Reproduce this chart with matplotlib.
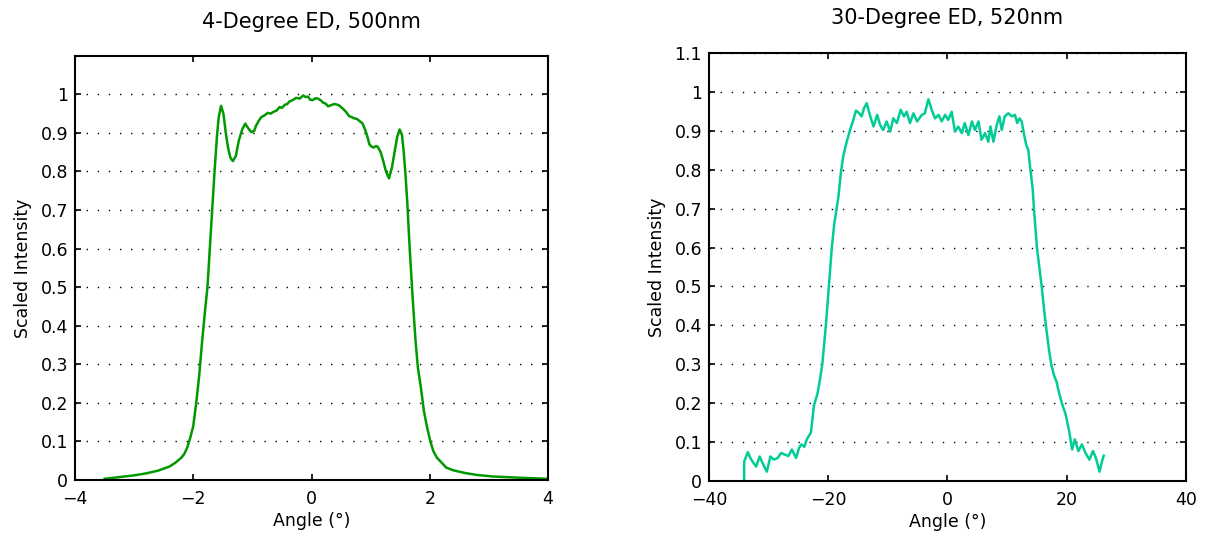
import matplotlib
matplotlib.use("Agg")
import matplotlib.pyplot as plt
from matplotlib.ticker import FuncFormatter

# 4-degree ED, 500 nm
angle_4deg = [-3.5, -3.0, -2.8, -2.6, -2.4, -2.3, -2.2, -2.15, -2.1, -2.05, -2.0, -1.95,
              -1.9, -1.85, -1.8, -1.76, -1.72, -1.68, -1.64, -1.60, -1.57, -1.53, -1.49,
              -1.45, -1.41, -1.37, -1.33, -1.28, -1.23, -1.17, -1.12, -1.07, -1.02, -0.97,
              -0.94, -0.89, -0.85, -0.80, -0.74, -0.69, -0.64, -0.59, -0.54, -0.50, -0.45,
              -0.41, -0.37, -0.32, -0.26, -0.20, -0.14, -0.10, -0.06, -0.02, 0.02, 0.07,
              0.11, 0.16, 0.20, 0.24, 0.28, 0.33, 0.39, 0.46, 0.53, 0.58, 0.64, 0.68, 0.72,
              0.77, 0.81, 0.86, 0.90, 0.94, 0.98, 1.02, 1.05, 1.09, 1.12, 1.17, 1.21, 1.26,
              1.31, 1.36, 1.41, 1.45, 1.49, 1.53, 1.56, 1.59, 1.62, 1.65, 1.68, 1.72, 1.76,
              1.80, 1.85, 1.90, 1.95, 2.01, 2.06, 2.12, 2.20, 2.28, 2.40, 2.60, 2.80, 3.07,
              3.50, 4.0]
inten_4deg = [0.003, 0.012, 0.017, 0.024, 0.035, 0.045, 0.058, 0.068, 0.085, 0.11, 0.14, 0.20,
              0.27, 0.36, 0.44, 0.50, 0.60, 0.70, 0.80, 0.89, 0.94, 0.970, 0.95,
              0.90, 0.86, 0.835, 0.827, 0.84, 0.88, 0.91, 0.924, 0.912, 0.902, 0.905,
              0.918, 0.932, 0.941, 0.945, 0.952, 0.950, 0.955, 0.958, 0.967, 0.965, 0.973,
              0.975, 0.982, 0.985, 0.991, 0.989, 0.997, 0.993, 0.994, 0.986, 0.985, 0.990,
              0.989, 0.984, 0.978, 0.976, 0.969, 0.972, 0.975, 0.972, 0.963, 0.955, 0.943, 0.941, 0.938,
              0.936, 0.931, 0.925, 0.911, 0.893, 0.870, 0.864, 0.862, 0.866, 0.864, 0.850, 0.829, 0.80,
              0.782, 0.81, 0.855, 0.890, 0.909, 0.895, 0.85, 0.79, 0.72, 0.63, 0.55, 0.45, 0.36,
              0.29, 0.24, 0.18, 0.14, 0.10, 0.075, 0.058, 0.045, 0.032, 0.025, 0.018, 0.013, 0.009,
              0.006, 0.003]

# 30-degree ED, 520 nm
angle_30deg = [-34.1, -34.1, -33.5, -33.1, -32.7, -32.1, -31.5, -30.9, -30.3, -29.7, -29.1,
               -28.5, -27.9, -27.3, -26.7, -26.1, -25.4, -24.9, -24.5, -24.0, -23.6, -22.9,
               -22.4, -21.8, -21.4, -21.0, -20.7, -20.4, -20.1, -19.9, -19.6, -19.4, -19.0,
               -18.6, -18.3, -17.9, -17.5, -16.9, -16.35, -15.8, -15.35, -14.8, -14.4, -14.0,
               -13.55, -13.1, -12.7, -12.4, -11.8, -11.3, -10.8, -10.2, -9.6, -9.1, -8.5,
               -7.85, -7.3, -6.85, -6.3, -5.7, -5.1, -4.3, -3.8, -3.2, -2.65, -2.1, -1.5,
               -0.97, -0.4, 0.13, 0.7, 1.26, 1.8, 2.4, 2.9, 3.5, 4.1, 4.6, 5.2, 5.7, 6.3,
               6.85, 7.2, 7.7, 8.25, 8.7, 9.1, 9.6, 10.2, 10.8, 11.3, 11.7, 12.05, 12.45,
               12.8, 13.2, 13.55, 13.85, 14.3, 14.5, 15.0, 15.4, 15.8, 16.2, 16.5, 17.0,
               17.4, 17.9, 18.3, 18.6, 19.2, 19.8, 20.4, 20.9, 21.35, 21.95, 22.55, 23.15,
               23.8, 24.4, 24.9, 25.5, 25.9, 26.2]
inten_30deg = [0.0, 0.050, 0.074, 0.060, 0.050, 0.037, 0.063, 0.042, 0.024, 0.063, 0.055,
               0.059, 0.072, 0.068, 0.064, 0.081, 0.059, 0.085, 0.094, 0.088, 0.107, 0.125,
               0.194, 0.225, 0.26, 0.30, 0.35, 0.40, 0.46, 0.50, 0.56, 0.60, 0.66,
               0.70, 0.73, 0.79, 0.834, 0.872, 0.902, 0.928, 0.952, 0.945, 0.937, 0.958,
               0.971, 0.945, 0.925, 0.911, 0.941, 0.915, 0.902, 0.924, 0.898, 0.932, 0.920,
               0.954, 0.937, 0.949, 0.920, 0.945, 0.924, 0.941, 0.945, 0.981, 0.954, 0.932, 0.941,
               0.924, 0.941, 0.928, 0.949, 0.898, 0.911, 0.894, 0.920, 0.889, 0.924, 0.902, 0.924, 0.877, 0.894,
               0.872, 0.911, 0.872, 0.915, 0.937, 0.902, 0.937, 0.945, 0.937, 0.941, 0.920, 0.932, 0.924,
               0.894, 0.864, 0.851, 0.808, 0.748, 0.70, 0.60, 0.55, 0.50, 0.44, 0.40, 0.34,
               0.30, 0.27, 0.255, 0.233, 0.199, 0.172, 0.129, 0.081, 0.107, 0.077, 0.094, 0.072,
               0.055, 0.077, 0.059, 0.024, 0.050, 0.065]

yticks_4deg = [0, 0.1, 0.2, 0.3, 0.4, 0.5, 0.6, 0.7, 0.8, 0.9, 1.0]
yticks_30deg = [0, 0.1, 0.2, 0.3, 0.4, 0.5, 0.6, 0.7, 0.8, 0.9, 1.0, 1.1]
xticks_4deg = [-4, -2, 0, 2, 4]
xticks_30deg = [-40, -20, 0, 20, 40]

plt.rcParams['font.family'] = 'DejaVu Sans'
plt.rcParams['font.size'] = 12

fig = plt.figure(figsize=(12.06, 5.39), dpi=100)
ax1 = fig.add_axes([0.0622, 0.1095, 0.3922, 0.787])
ax2 = fig.add_axes([0.5879, 0.1076, 0.3955, 0.7941])


def style_axes(ax, xticks, yticks, xlim, title, title_pad):
    ax.set_xlim(*xlim)
    ax.set_ylim(0, 1.1)
    ax.set_xticks(xticks)
    ax.set_yticks(yticks)
    ax.yaxis.set_major_formatter(FuncFormatter(lambda v, p: '%g' % round(v, 2)))
    ax.tick_params(direction='in', top=True, right=True, length=4, width=1.2,
                   labelsize=12.5)
    ax.tick_params(axis='y', pad=5)
    ax.tick_params(axis='x', pad=7)
    for s in ax.spines.values():
        s.set_linewidth(1.5)
    ax.yaxis.grid(True, color='black', linestyle=(0, (1, 7)), linewidth=1.0)
    ax.set_axisbelow(True)
    ax.set_xlabel('Angle (°)', fontsize=12.5, labelpad=3)
    ax.set_ylabel('Scaled Intensity', fontsize=12.5, labelpad=6)
    ax.set_title(title, fontsize=15, pad=title_pad)


ax1.plot(angle_4deg, inten_4deg, color='#009900', linewidth=1.8)
style_axes(ax1, xticks_4deg, yticks_4deg, (-4, 4), '4-Degree ED, 500nm', 20)

ax2.plot(angle_30deg, inten_30deg, color='#00cc96', linewidth=1.8)
style_axes(ax2, xticks_30deg, yticks_30deg, (-40, 40), '30-Degree ED, 520nm', 21)

fig.savefig('out.png', dpi=100)
